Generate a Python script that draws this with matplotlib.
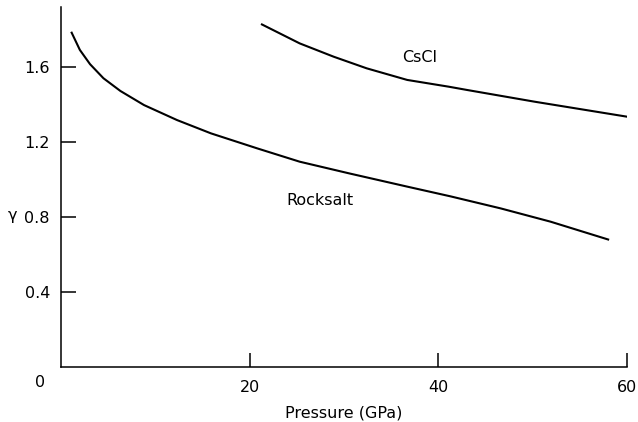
import matplotlib
matplotlib.use("Agg")
import matplotlib.pyplot as plt

rocksalt_p = [1.13, 2.0, 3.08, 4.5, 6.3, 8.8, 12.3, 15.9, 20.8, 25.3, 30.6, 36.7, 41.3, 46.6, 51.9, 58.0]
rocksalt_g = [1.783, 1.691, 1.615, 1.540, 1.472, 1.397, 1.317, 1.246, 1.166, 1.095, 1.032, 0.962, 0.910, 0.846, 0.775, 0.68]
cscl_p = [21.3, 25.3, 28.9, 32.4, 36.7, 41.1, 43.1, 50.2, 60.0]
cscl_g = [1.827, 1.726, 1.655, 1.593, 1.531, 1.495, 1.477, 1.415, 1.335]
xticks = [20, 40, 60]
yticks = [0.4, 0.8, 1.2, 1.6]

plt.rcParams['font.family'] = ['DejaVu Sans']
fig = plt.figure(figsize=(6.38, 4.22), dpi=100)
ax = fig.add_axes([61/638, 1-367/422, (627-61)/638, (367-7)/422])
ax.plot(rocksalt_p, rocksalt_g, color='black', lw=1.5)
ax.plot(cscl_p, cscl_g, color='black', lw=1.5)
ax.set_xlim(0, 60)
ax.set_ylim(0, 1.92)
for s in ['top', 'right']:
    ax.spines[s].set_visible(False)
for s in ['left', 'bottom']:
    ax.spines[s].set_linewidth(1.1)
ax.set_xticks(xticks)
ax.set_xticklabels([str(v) for v in xticks])
ax.set_yticks(yticks)
ax.set_yticklabels([f"{v:.1f}" for v in yticks])
ax.tick_params(axis='x', direction='in', length=10, width=1.1, pad=9, labelsize=11.5)
ax.tick_params(axis='y', direction='in', length=11, width=1.1, pad=8, labelsize=11.5)
ax.text(-2.2, -0.085, "0", ha='center', va='center', fontsize=11.5, clip_on=False)
ax.text(38.0, 1.653, "CsCl", ha='center', va='center', fontsize=11.5)
ax.text(27.5, 0.89, "Rocksalt", ha='center', va='center', fontsize=11.5)
ax.set_xlabel("Pressure (GPa)", fontsize=11.5, labelpad=8)
fig.text(12/638, 1-216/422, "γ", ha='center', va='center', fontsize=11.5)
fig.savefig("out.png", dpi=100)
